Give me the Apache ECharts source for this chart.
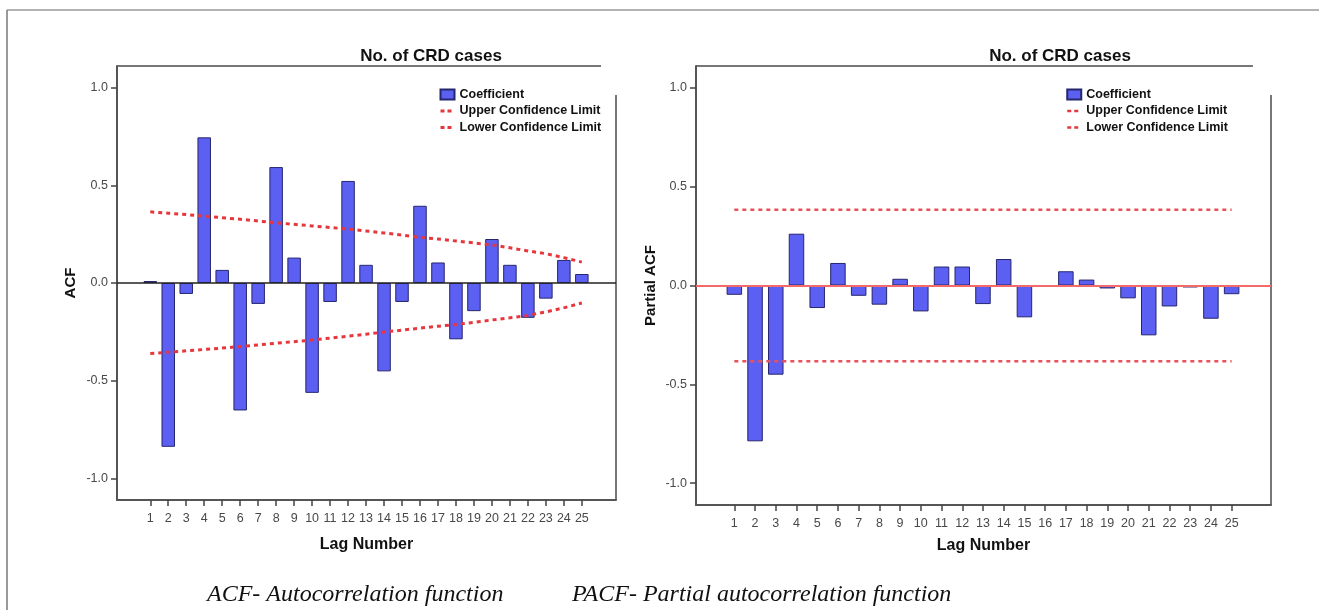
<!DOCTYPE html>
<html>
<head>
<meta charset="utf-8">
<script src="https://cdn.jsdelivr.net/npm/echarts@6/dist/echarts.min.js"></script>
<style>
html,body{margin:0;padding:0;background:#fff;}
#chart{width:1319px;height:610px;}
</style>
</head>
<body>
<div id="chart"></div>
<script>
// ---- data ----
const lags = [1,2,3,4,5,6,7,8,9,10,11,12,13,14,15,16,17,18,19,20,21,22,23,24,25];
const acf = [0.01,-0.838,-0.056,0.745,0.067,-0.652,-0.107,0.593,0.13,-0.562,-0.097,0.522,0.093,-0.452,-0.097,0.395,0.105,-0.288,-0.144,0.225,0.093,-0.178,-0.08,0.118,0.046];
const acfUpper = [0.364,0.357,0.350,0.342,0.334,0.326,0.317,0.308,0.300,0.292,0.284,0.276,0.266,0.256,0.245,0.234,0.225,0.215,0.205,0.195,0.180,0.164,0.150,0.130,0.107];
const acfLower = [-0.361,-0.354,-0.347,-0.340,-0.333,-0.325,-0.317,-0.308,-0.300,-0.292,-0.282,-0.272,-0.262,-0.251,-0.241,-0.231,-0.221,-0.212,-0.201,-0.189,-0.178,-0.166,-0.148,-0.127,-0.102];
const pacf = [-0.047,-0.788,-0.451,0.262,-0.114,0.114,-0.052,-0.097,0.034,-0.131,0.096,0.096,-0.094,0.134,-0.161,0,0.072,0.03,-0.015,-0.065,-0.252,-0.106,-0.01,-0.168,-0.044];
const pacfUpper = [0.383,0.383,0.383,0.383,0.383,0.383,0.383,0.383,0.383,0.383,0.383,0.383,0.383,0.383,0.383,0.383,0.383,0.383,0.383,0.383,0.383,0.383,0.383,0.383,0.383];
const pacfLower = [-0.383,-0.383,-0.383,-0.383,-0.383,-0.383,-0.383,-0.383,-0.383,-0.383,-0.383,-0.383,-0.383,-0.383,-0.383,-0.383,-0.383,-0.383,-0.383,-0.383,-0.383,-0.383,-0.383,-0.383,-0.383];
const yTicks = [-1, -0.5, 0, 0.5, 1];
const titleText = 'No. of CRD cases';
const legendNames = ['Coefficient','Upper Confidence Limit','Lower Confidence Limit'];
const captionLeft = 'ACF- Autocorrelation function';
const captionRight = 'PACF- Partial autocorrelation function';

const pair = (xs, ys) => xs.map((x, i) => [x, ys[i]]);

const FONT = 'Liberation Sans, Arial, sans-serif';
const AXIS_COLOR = '#555';
const BAR_COLOR = '#5b5ff2';
const BAR_BORDER = '#26266e';

// plot frames (px)
const G = [
  {left:117, top:66, right:616, bottom:500},
  {left:696, top:66, right:1271, bottom:505}
];

function xAxisCfg(i){
  return {
    type:'value', gridIndex:i, min:-0.85, max:26.9,
    name:'Lag Number', nameLocation:'middle', nameGap: i===0 ? 37 : 33,
    nameTextStyle:{fontFamily:FONT, fontWeight:'bold', fontSize:16, color:'#111'},
    axisLine:{show:true, onZero:false, lineStyle:{color:AXIS_COLOR, width:2}},
    axisTick:{show:true, length:6, customValues:lags, lineStyle:{color:'#444', width:1.5}},
    axisLabel:{show:true, customValues:lags, margin:12, fontFamily:FONT, fontSize:12.5, color:'#484848'},
    splitLine:{show:false}
  };
}
function yAxisCfg(i, name){
  return {
    type:'value', gridIndex:i, min:-1.11, max:1.11,
    name:name, nameLocation:'middle', nameGap: i===0 ? 39 : 38, nameRotate:90,
    nameTextStyle:{fontFamily:FONT, fontWeight:'bold', fontSize:15, color:'#111'},
    axisLine:{show:true, onZero:false, lineStyle:{color:AXIS_COLOR, width:2}},
    axisTick:{show:true, length:6, customValues:yTicks, lineStyle:{color:'#444', width:1.5}},
    axisLabel:{show:true, customValues:yTicks, margin:9, fontFamily:FONT, fontSize:12.5, color:'#484848',
      formatter:v => v.toFixed(1)},
    splitLine:{show:false}
  };
}

const dotted = (w, c) => ({color:c, width:w, type:[4,4]});
const legendData = (w) => legendNames.map((n, i) => i === 0
  ? {name:n, icon:'rect'}
  : {name:n, itemStyle:{opacity:0}, lineStyle:{width:w, type:[4,3]}});

const option = {
  animation:false,
  backgroundColor:'#fff',
  title:[
    {text:titleText, left:426, top:43, textAlign:'center',
     textStyle:{fontFamily:FONT, fontWeight:'bold', fontSize:17, color:'#111'}},
    {text:titleText, left:1055, top:43, textAlign:'center',
     textStyle:{fontFamily:FONT, fontWeight:'bold', fontSize:17, color:'#111'}}
  ],
  legend:[
    {orient:'vertical', left:434, top:83, itemWidth:14, itemHeight:10, itemGap:3.5,
     data:legendData(3), selectedMode:false,
     textStyle:{fontFamily:FONT, fontWeight:'bold', fontSize:12.5, color:'#111'}},
    {orient:'vertical', left:1061, top:83, itemWidth:14, itemHeight:10, itemGap:3.5,
     data:legendData(2.5), selectedMode:false,
     textStyle:{fontFamily:FONT, fontWeight:'bold', fontSize:12.5, color:'#111'}}
  ],
  grid: G.map(g => ({left:g.left, top:g.top, width:g.right-g.left, height:g.bottom-g.top, containLabel:false})),
  xAxis:[xAxisCfg(0), xAxisCfg(1)],
  yAxis:[yAxisCfg(0,'ACF'), yAxisCfg(1,'Partial ACF')],
  series:[
    {name:'Coefficient', type:'bar', xAxisIndex:0, yAxisIndex:0, barWidth:13.5,
     data:pair(lags, acf),
     itemStyle:{color:BAR_COLOR, borderColor:BAR_BORDER, borderWidth:1},
     markLine:{silent:true, symbol:'none', label:{show:false},
       lineStyle:{color:'#222', width:1.5, type:'solid'}, data:[{yAxis:0}]}},
    {name:'Upper Confidence Limit', type:'line', xAxisIndex:0, yAxisIndex:0, symbol:'none',
     data:pair(lags, acfUpper), lineStyle:dotted(3,'#e5373d'), itemStyle:{color:'#e5373d'}, z:3},
    {name:'Lower Confidence Limit', type:'line', xAxisIndex:0, yAxisIndex:0, symbol:'none',
     data:pair(lags, acfLower), lineStyle:dotted(3,'#e5373d'), itemStyle:{color:'#e5373d'}, z:3},
    {name:'Coefficient', type:'bar', xAxisIndex:1, yAxisIndex:1, barWidth:15.5,
     data:pair(lags, pacf),
     itemStyle:{color:BAR_COLOR, borderColor:BAR_BORDER, borderWidth:1},
     markLine:{silent:true, symbol:'none', label:{show:false}, z:5,
       lineStyle:{color:'#f26a6a', width:2, type:'solid'}, data:[{yAxis:0}]}},
    {name:'Upper Confidence Limit', type:'line', xAxisIndex:1, yAxisIndex:1, symbol:'none',
     data:pair(lags, pacfUpper), lineStyle:dotted(2.5,'#e8525a'), itemStyle:{color:'#e8525a'}, z:3},
    {name:'Lower Confidence Limit', type:'line', xAxisIndex:1, yAxisIndex:1, symbol:'none',
     data:pair(lags, pacfLower), lineStyle:dotted(2.5,'#e8525a'), itemStyle:{color:'#e8525a'}, z:3}
  ],
  graphic:[
    // outer figure frame (top & left)
    {type:'line', shape:{x1:7, y1:10, x2:1319, y2:10}, style:{stroke:'#999', lineWidth:1.5}},
    {type:'line', shape:{x1:7, y1:10, x2:7, y2:610}, style:{stroke:'#777', lineWidth:1.5}},
    // plot frames: top and right edges (SPSS style offset)
    {type:'line', shape:{x1:G[0].left, y1:G[0].top, x2:601, y2:G[0].top}, style:{stroke:'#777', lineWidth:2}},
    {type:'line', shape:{x1:G[0].right, y1:95, x2:G[0].right, y2:G[0].bottom}, style:{stroke:'#777', lineWidth:2}},
    {type:'line', shape:{x1:G[1].left, y1:G[1].top, x2:1253, y2:G[1].top}, style:{stroke:'#777', lineWidth:2}},
    {type:'line', shape:{x1:G[1].right, y1:95, x2:G[1].right, y2:G[1].bottom}, style:{stroke:'#777', lineWidth:2}},
    // caption
    {type:'text', left:207, top:583, style:{text:captionLeft,
      font:'italic 24px "Liberation Serif", "Times New Roman", serif', fill:'#111'}},
    {type:'text', left:572, top:583, style:{text:captionRight,
      font:'italic 24px "Liberation Serif", "Times New Roman", serif', fill:'#111'}}
  ]
};

const chart = echarts.init(document.getElementById('chart'), null, {renderer:'canvas'});
chart.setOption(option);
</script>
</body>
</html>
